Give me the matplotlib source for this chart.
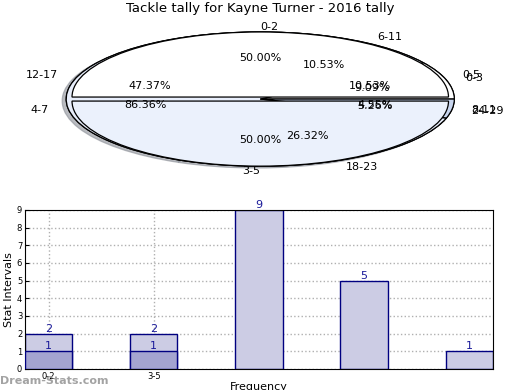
import matplotlib
matplotlib.use('Agg')
from matplotlib import pyplot as plt

# data
intervals_a = ['0-2', '3-5']
counts_a = [1, 1]
intervals_b = ['0-5', '6-11', '12-17', '18-23', '24-29']
counts_b = [2, 2, 9, 5, 1]
intervals_c = ['0-3', '4-7', '8-11']
counts_c = [2, 19, 1]

bar_ticks = ['0-2', '3-5']
front_vals = [1, 1]
back_vals = [2, 2, 9, 5, 1]

title = 'Tackle tally for Kayne Turner - 2016 tally'

fig = plt.figure(figsize=(5.2, 3.9), dpi=100)

# ---- pie part
ax = fig.add_axes([0.034, 0.531, 0.933, 0.43])
wp = dict(edgecolor='black', linewidth=0.9)
ax.pie(counts_b, labels=intervals_b, autopct='%.2f%%',
       shadow=dict(ox=-0.015, oy=-0.02, shade=0.4, alpha=0.6),
       colors=['white', 'white', '#e8eefb', '#e8eefb', '#c8d5ee'],
       wedgeprops=wp, textprops=dict(fontsize=8), pctdistance=0.6)
ax.pie(counts_c, labels=intervals_c, autopct='%.2f%%',
       colors=['white', '#e8eefb', '#c8d5ee'],
       wedgeprops=wp, textprops=dict(fontsize=8), pctdistance=0.6)
wa, ta, pa = ax.pie(counts_a, labels=intervals_a, autopct='%.2f%%', radius=0.97,
                    explode=[0.03, 0.03], colors=['white', '#ebf1fc'],
                    wedgeprops=wp, textprops=dict(fontsize=8), pctdistance=0.6,
                    labeldistance=1.08)
ta[0].set_ha('left')
ta[1].set_ha('right')
ax.set_aspect('auto')
ax.set_xlim(-1.25, 1.25)
ax.set_ylim(-1.25, 1.25)
ax.set_title(title, fontsize=9.5, pad=1)

# ---- bar part
bx = fig.add_axes([0.048, 0.054, 0.9, 0.408])
w = 0.45
pos_back = list(range(len(back_vals)))
pos_front = list(range(len(front_vals)))
bars1 = bx.bar(pos_back, back_vals, w, color='#ccccE4', edgecolor='#000080', linewidth=1, zorder=2)
bars2 = bx.bar(pos_front, front_vals, w, color='#a4a4d0', edgecolor='#000080', linewidth=1, zorder=3)
for r in list(bars1) + list(bars2):
    h = r.get_height()
    bx.text(r.get_x() + r.get_width() / 2, h, '%d' % h, ha='center', va='bottom',
            color='#1a1a9a', fontsize=8, zorder=5)

bx.set_xlim(-w / 2, len(back_vals) - 1 + w / 2)
bx.set_ylim(0, 9)
bx.set_yticks(range(10))
bx.set_xticks(pos_front)
bx.set_xticklabels(bar_ticks)
bx.tick_params(labelsize=6, direction='in', length=3, pad=2)
bx.grid(True, color='#b0b0b0', linestyle=':', linewidth=1, zorder=0)
bx.set_axisbelow(True)
bx.set_ylabel('Stat Intervals', fontsize=8, labelpad=2)
bx.set_xlabel('Frequency', fontsize=8, labelpad=1)

fig.text(0.0, 0.015, 'Dream-Stats.com', fontsize=8, color='#999999', fontweight='bold', alpha=0.9)

fig.savefig('out.png', dpi=100)
